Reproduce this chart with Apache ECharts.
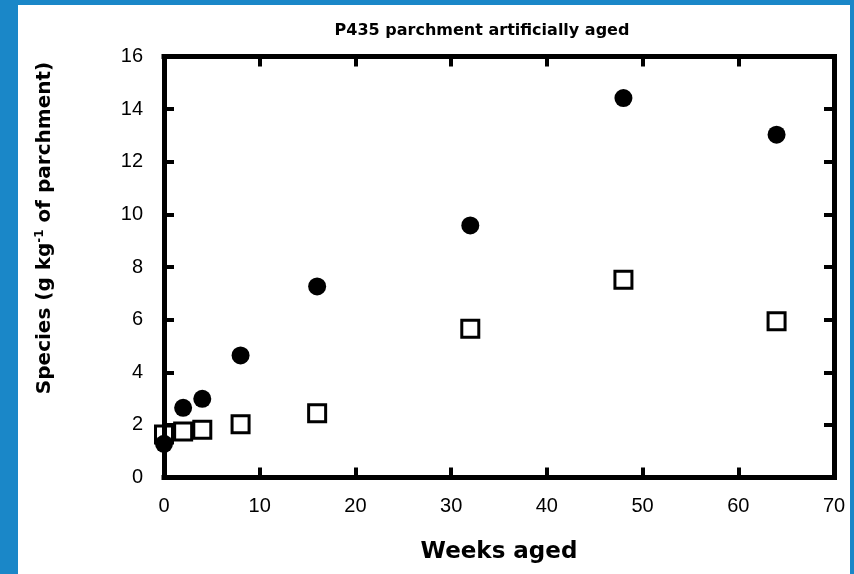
<!DOCTYPE html>
<html><head><meta charset="utf-8">
<script src="https://cdn.jsdelivr.net/npm/echarts@6/dist/echarts.min.js"></script>
<style>
html,body{margin:0;padding:0;background:#1a87c8;overflow:hidden;}
#bg{position:absolute;left:18px;top:5px;width:832px;height:569px;background:#fff;}
#chart{position:absolute;left:0;top:0;width:854px;height:574px;}
</style></head><body><div id="bg"></div><div id="chart"></div>
<script>
// Data
const weeks = [0, 2, 4, 8, 16, 32, 48, 64];
const filledSeries = [1.28, 2.65, 2.99, 4.64, 7.26, 9.58, 14.42, 13.03];
const openSeries = [1.63, 1.75, 1.81, 2.02, 2.44, 5.65, 7.52, 5.94];
const xTicks = [0, 10, 20, 30, 40, 50, 60, 70];
const yTicks = [0, 2, 4, 6, 8, 10, 12, 14, 16];
const titleText = 'P435 parchment artificially aged';
const xName = 'Weeks aged';

const gridLeft = 164, gridRight = 20;
const plotWidth = 854 - gridLeft - gridRight;

const chart = echarts.init(document.getElementById('chart'), null, {renderer: 'canvas'});
function lineStyle() { return {color: '#000', width: 5, cap: 'square'}; }
function tickStyle(inside) { return {show: true, inside: inside, length: 10, lineStyle: {color: '#000', width: 4}}; }
function labelStyle(m) { return {margin: m, color: '#000', fontFamily: 'Liberation Sans, Arial, sans-serif', fontSize: 20}; }
function yBase(pos) {
  return {type: 'value', min: yTicks[0], max: yTicks[yTicks.length - 1], interval: yTicks[1] - yTicks[0], position: pos, z: 3, splitLine: {show: false}};
}

function pairs(ys) { return weeks.map((w, i) => [w, ys[i]]); }

chart.setOption({
  animation: false,
  backgroundColor: 'transparent',
  grid: {left: gridLeft, right: gridRight, top: 56.5, bottom: 96.5},
  graphic: [
    {type: 'text', x: 482, y: 31, style: {text: titleText, fill: '#000', font: 'bold 16px "DejaVu Sans"', align: 'center', verticalAlign: 'middle'}},
    {type: 'text', x: 45, y: 228, rotation: Math.PI / 2,
      style: {text: 'Species (g kg{sup|-1} of parchment)', fill: '#000', font: 'bold 20px "DejaVu Sans"', align: 'center', verticalAlign: 'middle',
        rich: {sup: {font: 'bold 12px "DejaVu Sans"', fill: '#000', verticalAlign: 'top', padding: [0, 0, 10, 0]}}}}
  ],
  xAxis: [{
    type: 'value', min: xTicks[0], max: xTicks[xTicks.length - 1], interval: xTicks[1] - xTicks[0], position: 'bottom', z: 3,
    axisLine: {show: true, onZero: false, lineStyle: lineStyle()}, axisTick: tickStyle(true), splitLine: {show: false},
    axisLabel: labelStyle(19),
    name: xName, nameLocation: 'middle', nameGap: 63,
    nameTextStyle: {color: '#000', fontFamily: 'DejaVu Sans', fontWeight: 'bold', fontSize: 23}
  }, {
    type: 'value', min: xTicks[0], max: xTicks[xTicks.length - 1], interval: xTicks[1] - xTicks[0], position: 'top', z: 3,
    axisLine: {show: true, onZero: false, lineStyle: lineStyle()}, axisTick: tickStyle(true), splitLine: {show: false}, axisLabel: {show: false}
  }],
  yAxis: [
    Object.assign(yBase('left'), {axisLine: {show: true, onZero: false, lineStyle: lineStyle()}, axisTick: {show: false}, axisLabel: labelStyle(21)}),
    Object.assign(yBase('right'), {axisLine: {show: true, onZero: false, lineStyle: lineStyle()}, axisTick: tickStyle(true), axisLabel: {show: false}}),
    // right-type axis moved onto the left frame line so its outward ticks point into the plot
    Object.assign(yBase('right'), {offset: -plotWidth, axisLine: {show: false, onZero: false}, axisTick: tickStyle(false), axisLabel: {show: false}})
  ],
  series: [{
    name: 'open', type: 'scatter', data: pairs(openSeries), symbol: 'rect', symbolSize: 17, clip: false,
    itemStyle: {color: '#fff', borderColor: '#000', borderWidth: 3, opacity: 1}, z: 2
  }, {
    name: 'filled', type: 'scatter', data: pairs(filledSeries), symbol: 'circle', symbolSize: 18, clip: false,
    itemStyle: {color: '#000', opacity: 1}, z: 2
  }]
});
</script></body></html>
